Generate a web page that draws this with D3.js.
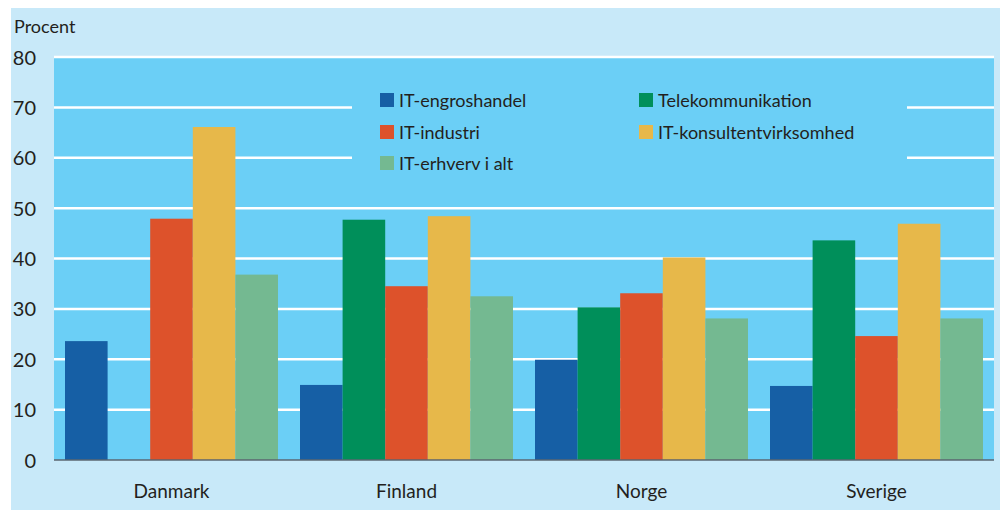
<!DOCTYPE html>
<html>
<head>
<meta charset="utf-8">
<script src="https://cdn.jsdelivr.net/npm/d3@7"></script>
<style>
    body { margin: 0; background: #ffffff; }
    svg { display: block; }
    .chart text { font-family: Lato, "Open Sans", sans-serif; fill: #231f20; }
    .chart__axis path, .chart__axis line { display: none; }
</style>
</head>
<body>
<div class="chart"></div>
<script>
// ----- DATA ----------------------------------------------
const countries = ["Danmark", "Finland", "Norge", "Sverige"];
const seriesNames = ["IT-engroshandel", "Telekommunikation", "IT-industri", "IT-konsultentvirksomhed", "IT-erhverv i alt"];
const seriesColours = ["#165fa5", "#008f5a", "#dd522b", "#e7b84a", "#74b991"];

// values per series, in country order
const itEngros     = [23.6, 14.9, 19.9, 14.7];
const telekom      = [0,    47.7, 30.3, 43.6];
const itIndustri   = [47.9, 34.5, 33.1, 24.6];
const itKonsulent  = [66.1, 48.4, 40.2, 46.9];
const itIAlt       = [36.8, 32.5, 28.1, 28.1];
const seriesValues = [itEngros, telekom, itIndustri, itKonsulent, itIAlt];

const yTicks = [0, 10, 20, 30, 40, 50, 60, 70, 80];

// ----- DRAW ----------------------------------------------
const width = 1000;
const height = 510;
const margin = { top: 57, bottom: 50, left: 54, right: 6 };
const innerWidth = width - margin.left - margin.right;
const innerHeight = height - margin.top - margin.bottom;

const svg = d3.select(".chart").append("svg")
    .attr("width", width)
    .attr("height", height);

// light outer panel
svg.append("rect")
    .attr("x", 11).attr("y", 8)
    .attr("width", width - 11).attr("height", height - 8)
    .attr("fill", "#c8e9f9");

const g = svg.append("g")
    .attr("transform", "translate(" + margin.left + "," + margin.top + ")");

const y = d3.scaleLinear()
    .domain([0, 80])
    .range([innerHeight, 0]);

const x = d3.scaleBand()
    .domain(countries)
    .range([0, innerWidth]);

// bars inside each country band, 11px gap at both sides
const xInner = d3.scaleBand()
    .domain(seriesNames)
    .range([11, x.bandwidth() - 11]);

// plot background
g.append("rect")
    .attr("width", innerWidth).attr("height", innerHeight)
    .attr("fill", "#6bcff6");

// gridlines
g.selectAll(".chart__grid")
    .data(yTicks.filter(t => t > 0))
    .enter()
        .append("line")
        .attr("x1", 0)
        .attr("x2", innerWidth)
        .attr("y1", d => y(d))
        .attr("y2", d => y(d))
        .attr("stroke", "#ffffff")
        .attr("stroke-width", 2.5);

// bars
const rows = [];
countries.forEach((c, ci) => {
    seriesNames.forEach((s, si) => {
        rows.push({ country: c, series: s, value: seriesValues[si][ci], colour: seriesColours[si] });
    });
});

g.selectAll(".chart__bar")
    .data(rows.filter(d => d.value > 0))
    .enter()
        .append("rect")
        .attr("x", d => x(d.country) + xInner(d.series))
        .attr("y", d => y(d.value))
        .attr("width", xInner.bandwidth())
        .attr("height", d => innerHeight - y(d.value))
        .attr("fill", d => d.colour);

// zero line
g.append("line")
    .attr("x1", 0).attr("x2", innerWidth)
    .attr("y1", y(0)).attr("y2", y(0))
    .attr("stroke", "#5b6670")
    .attr("stroke-width", 1.5);

// axes
const yAxis = d3.axisLeft(y).tickValues(yTicks).tickSize(0).tickPadding(18);
g.append("g")
    .classed("chart__axis", true)
    .call(yAxis)
    .selectAll("text")
        .attr("font-size", 20)
        .attr("dy", "0.35em");

const xAxis = d3.axisBottom(x).tickSize(0).tickPadding(25);
g.append("g")
    .classed("chart__axis", true)
    .attr("transform", "translate(0," + innerHeight + ")")
    .call(xAxis)
    .selectAll("text")
        .attr("font-size", 19);

svg.selectAll(".chart__axis text").attr("fill", "#231f20").style("font-family", null);

// axis title
svg.append("text")
    .attr("x", 14)
    .attr("y", 33)
    .attr("font-size", 18)
    .text("Procent");

// legend (box hides the gridlines behind it)
const legend = svg.append("g");
legend.append("rect")
    .attr("x", 352).attr("y", 84)
    .attr("width", 555).attr("height", 94)
    .attr("fill", "#6bcff6");

const legendPos = [
    { x: 380, y: 93 }, { x: 639, y: 93 },
    { x: 380, y: 125 }, { x: 639, y: 125 },
    { x: 380, y: 156 }
];

const items = legend.selectAll(".chart__legendItem")
    .data(seriesNames)
    .enter()
        .append("g")
        .attr("transform", (d, i) => "translate(" + legendPos[i].x + "," + legendPos[i].y + ")");

items.append("rect")
    .attr("width", 14).attr("height", 14)
    .attr("fill", (d, i) => seriesColours[i]);

items.append("text")
    .attr("x", 19)
    .attr("y", 14)
    .attr("font-size", 18)
    .text(d => d);
</script>
</body>
</html>
